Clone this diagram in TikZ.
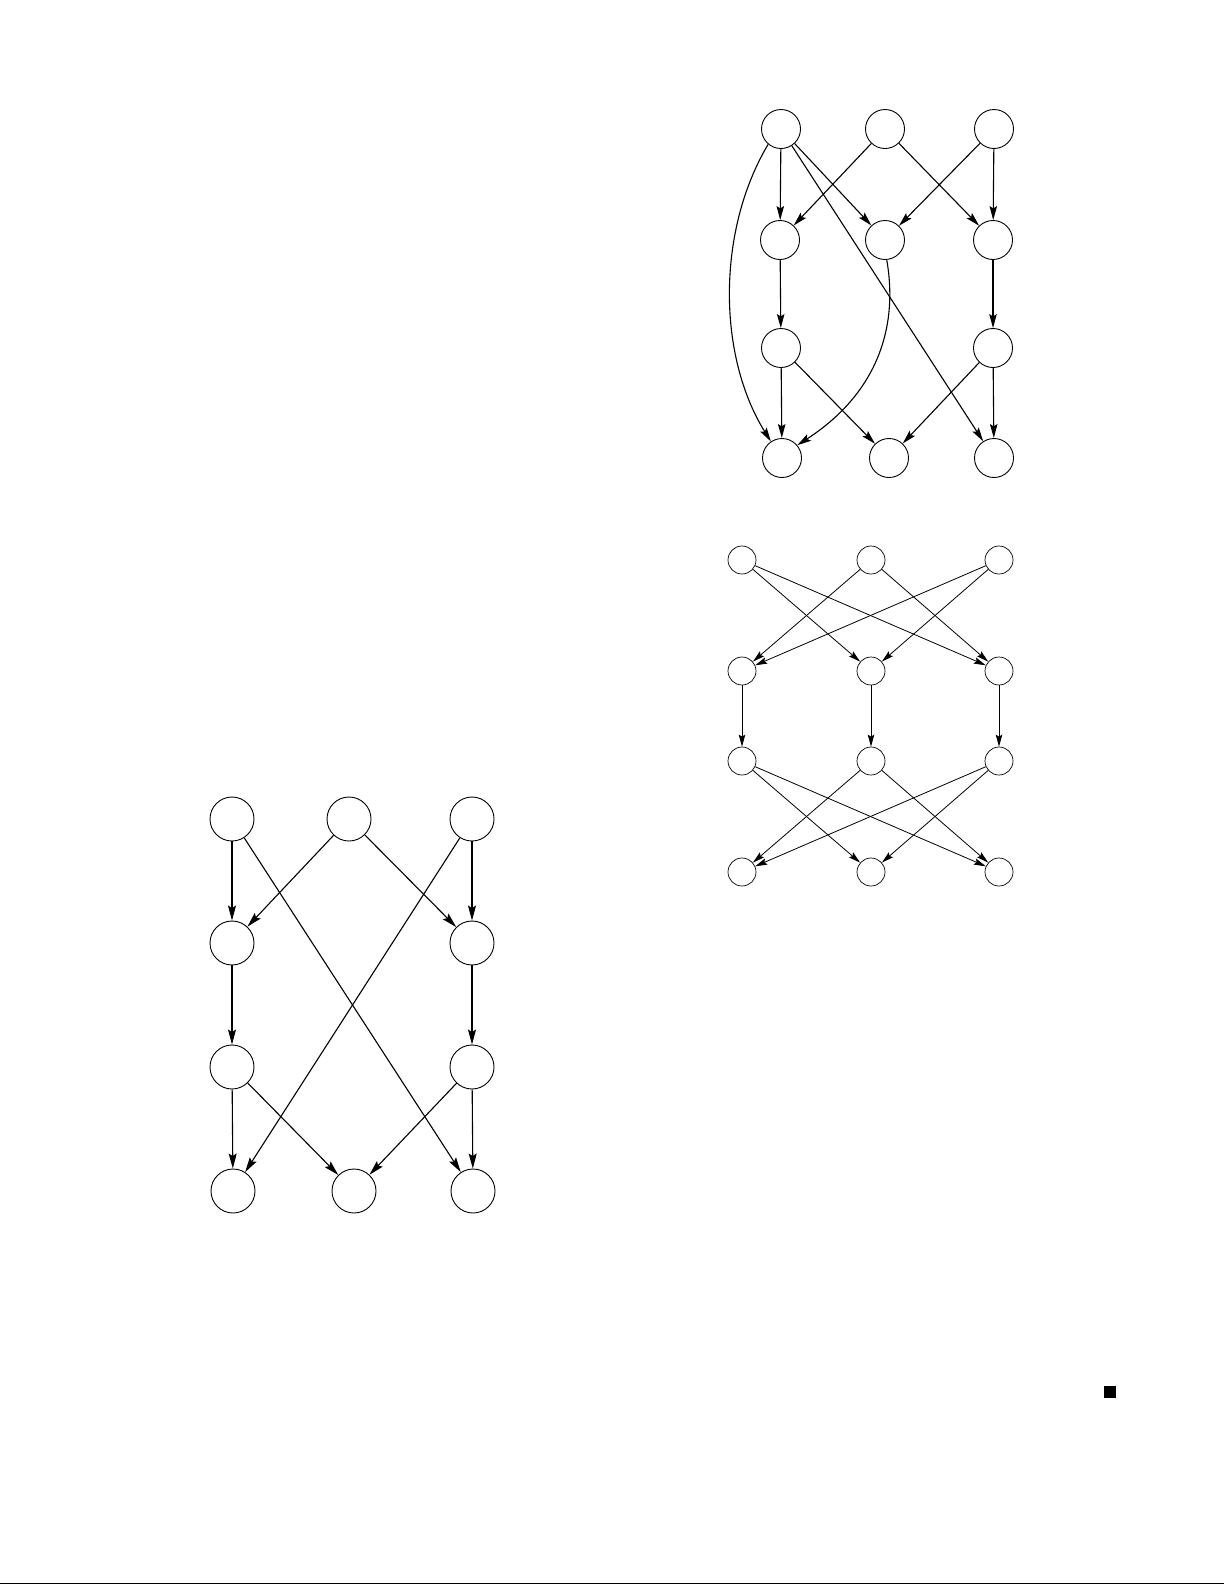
\documentclass[tikz,border=0pt]{standalone}
\usetikzlibrary{arrows.meta}
\begin{document}
\begin{tikzpicture}[x=1pt,y=-1pt,
  anode/.style={circle,draw,line width=0.9pt,minimum size=39pt,inner sep=0pt},
  bnode/.style={circle,draw,line width=0.7pt,minimum size=28pt,inner sep=0pt},
  cnode/.style={circle,draw,line width=0.9pt,minimum size=44pt,inner sep=0pt},
  aedge/.style={line width=1.1pt,-{Stealth[length=14pt,width=7.5pt,inset=2.5pt]}},
  bedge/.style={line width=0.8pt,-{Stealth[length=12pt,width=6.5pt,inset=2pt]}},
  cedge/.style={line width=1.1pt,-{Stealth[length=15pt,width=8pt,inset=2.5pt]}}]
\useasboundingbox (0,0) rectangle (1225,1585);
% Graph A
\node[anode] (A11) at (781,129) {};
\node[anode] (A12) at (885,129) {};
\node[anode] (A13) at (994,129) {};
\node[anode] (A21) at (780,240) {};
\node[anode] (A22) at (885,240) {};
\node[anode] (A23) at (993,240) {};
\node[anode] (A31) at (781,348) {};
\node[anode] (A33) at (993,348) {};
\node[anode] (A41) at (782,458) {};
\node[anode] (A42) at (889,458) {};
\node[anode] (A43) at (994,458) {};
\draw[aedge] (A11) -- (A21);
\draw[aedge] (A11) -- (A22);
\draw[aedge] (A11) -- (A43);
\draw[aedge] (A11.-130) .. controls (717,230) and (717,355) .. (A41.124);
\draw[aedge] (A12) -- (A21);
\draw[aedge] (A12) -- (A23);
\draw[aedge] (A13) -- (A22);
\draw[aedge] (A13) -- (A23);
\draw[aedge] (A21) -- (A31);
\draw[aedge] (A22.-85) .. controls (899,330) and (875,395) .. (A41.40);
\draw[aedge] (A23) -- (A33);
\draw[aedge] (A31) -- (A41);
\draw[aedge] (A31) -- (A42);
\draw[aedge] (A33) -- (A42);
\draw[aedge] (A33) -- (A43);
% Graph B
\node[bnode] (B11) at (742,560) {};
\node[bnode] (B12) at (871,560) {};
\node[bnode] (B13) at (999,560) {};
\node[bnode] (B21) at (742,671) {};
\node[bnode] (B22) at (871,671) {};
\node[bnode] (B23) at (999,671) {};
\node[bnode] (B31) at (742,761) {};
\node[bnode] (B32) at (871,761) {};
\node[bnode] (B33) at (999,761) {};
\node[bnode] (B41) at (742,872) {};
\node[bnode] (B42) at (871,872) {};
\node[bnode] (B43) at (999,872) {};
\draw[bedge] (B11) -- (B22);
\draw[bedge] (B11) -- (B23);
\draw[bedge] (B12) -- (B21);
\draw[bedge] (B12) -- (B23);
\draw[bedge] (B13) -- (B21);
\draw[bedge] (B13) -- (B22);
\draw[bedge] (B21) -- (B31);
\draw[bedge] (B22) -- (B32);
\draw[bedge] (B23) -- (B33);
\draw[bedge] (B31) -- (B42);
\draw[bedge] (B31) -- (B43);
\draw[bedge] (B32) -- (B41);
\draw[bedge] (B32) -- (B43);
\draw[bedge] (B33) -- (B41);
\draw[bedge] (B33) -- (B42);
% Graph C
\node[cnode] (C11) at (232,819) {};
\node[cnode] (C12) at (349,819) {};
\node[cnode] (C13) at (472,819) {};
\node[cnode] (C21) at (232,943) {};
\node[cnode] (C23) at (472,943) {};
\node[cnode] (C31) at (232,1067) {};
\node[cnode] (C33) at (472,1067) {};
\node[cnode] (C41) at (233,1191) {};
\node[cnode] (C42) at (354,1191) {};
\node[cnode] (C43) at (473,1191) {};
\draw[cedge] (C11) -- (C21);
\draw[cedge] (C11) -- (C43);
\draw[cedge] (C12) -- (C21);
\draw[cedge] (C12) -- (C23);
\draw[cedge] (C13) -- (C23);
\draw[cedge] (C13) -- (C41);
\draw[cedge] (C21) -- (C31);
\draw[cedge] (C23) -- (C33);
\draw[cedge] (C31) -- (C41);
\draw[cedge] (C31) -- (C42);
\draw[cedge] (C33) -- (C42);
\draw[cedge] (C33) -- (C43);
% end-of-proof square and rule
\fill (1104,1386) rectangle (1116,1398);
\draw[line width=1.6pt] (0,1583.5) -- (1224,1583.5);
\end{tikzpicture}
\end{document}
